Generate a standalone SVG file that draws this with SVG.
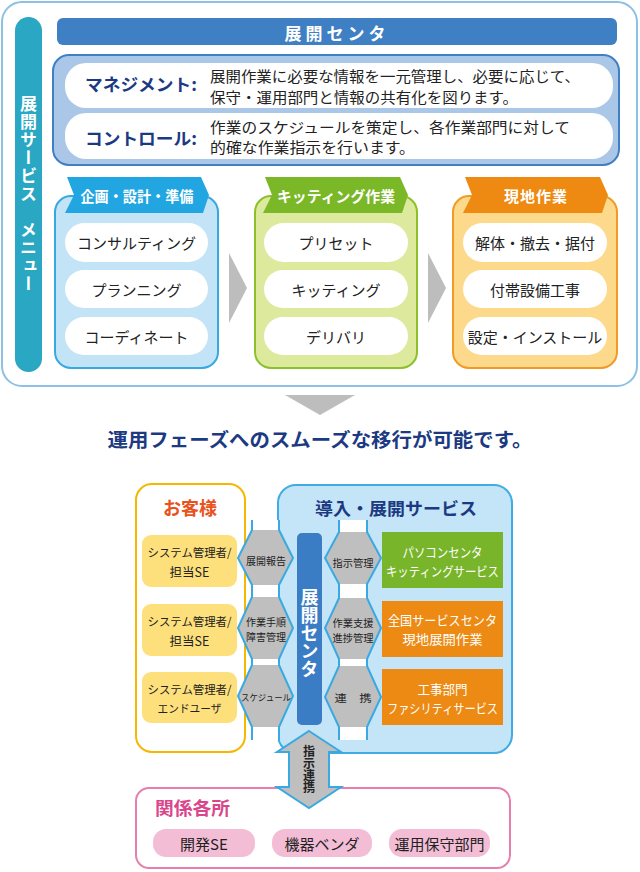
<svg xmlns="http://www.w3.org/2000/svg" width="640" height="872" viewBox="0 0 640 872">
<style>
text{font-family:"Noto Sans CJK JP","Noto Sans",sans-serif;}
.b{font-weight:700;}
.navy{fill:#1c3a82;}
.wt{fill:#fff;}
.dk{fill:#222;}
.pill{fill:#fff;}
.c{text-anchor:middle;dominant-baseline:central;}
.vt{writing-mode:vertical-rl;}
.chev{fill:#bdbdbd;}
.hex{fill:#bfbfbf;}
.edge{fill:none;stroke:#3aa9e2;stroke-width:2;}
</style>

<!-- ===== Top section ===== -->
<g id="frame">
  <rect x="2" y="2" width="635" height="384" rx="20" fill="#fff" stroke="#8dc0e3" stroke-width="2"/>
</g>
<g id="menu-bar">
  <rect x="15" y="17" width="27" height="355" rx="13.5" fill="#2aa7c3"/>
  <text class="vt b wt" x="28.5" y="95" font-size="17" letter-spacing="1">展開サービス　メニュー</text>
</g>
<g id="center-header">
  <rect x="57" y="18" width="560" height="27" rx="6" fill="#3f7fc3"/>
  <text class="c b wt" x="337" y="32" font-size="17" letter-spacing="4">展開センタ</text>
</g>
<g id="center-desc">
  <rect x="53" y="55" width="566" height="110" rx="16" fill="#aac7e7" stroke="#3f7fc3" stroke-width="2"/>
  <rect class="pill" x="65" y="63" width="548" height="45" rx="21"/>
  <rect class="pill" x="65" y="113" width="548" height="46" rx="21"/>
  <text class="b navy" x="85" y="91" font-size="17" textLength="112" lengthAdjust="spacingAndGlyphs">マネジメント:</text>
  <text class="dk" x="210" y="82" font-size="14.5" textLength="370" lengthAdjust="spacingAndGlyphs">展開作業に必要な情報を一元管理し、必要に応じて、</text>
  <text class="dk" x="210" y="103" font-size="14.5" textLength="308" lengthAdjust="spacingAndGlyphs">保守・運用部門と情報の共有化を図ります。</text>
  <text class="b navy" x="85" y="145" font-size="17" textLength="112" lengthAdjust="spacingAndGlyphs">コントロール:</text>
  <text class="dk" x="210" y="133" font-size="14.5" textLength="360" lengthAdjust="spacingAndGlyphs">作業のスケジュールを策定し、各作業部門に対して</text>
  <text class="dk" x="210" y="153" font-size="14.5" textLength="205" lengthAdjust="spacingAndGlyphs">的確な作業指示を行います。</text>
</g>

<g id="plan">
  <rect x="55" y="196" width="163" height="172" rx="16" fill="#c3e3f7" stroke="#36a9e1" stroke-width="2"/>
  <polygon points="67,177 201,177 209,195 203,213 65,213 74,195" fill="#22a6e2"/>
  <text class="c b wt" x="137" y="195" font-size="15" textLength="113" lengthAdjust="spacingAndGlyphs">企画・設計・準備</text>
  <rect class="pill" x="65" y="223" width="143" height="39" rx="19.5"/>
  <rect class="pill" x="65" y="270" width="143" height="38" rx="19"/>
  <rect class="pill" x="65" y="317" width="143" height="38" rx="19"/>
  <text class="c dk" x="136.5" y="242" font-size="15">コンサルティング</text>
  <text class="c dk" x="136.5" y="289" font-size="15">プランニング</text>
  <text class="c dk" x="136.5" y="336" font-size="15">コーディネート</text>
</g>
<g id="kitting">
  <rect x="255" y="196" width="162" height="172" rx="16" fill="#dde99c" stroke="#8bc12a" stroke-width="2"/>
  <polygon points="265,177 400,177 408,195 402,213 263,213 272,195" fill="#7ab828"/>
  <text class="c b wt" x="336" y="195" font-size="15" textLength="118" lengthAdjust="spacingAndGlyphs">キッティング作業</text>
  <rect class="pill" x="264" y="223" width="144" height="39" rx="19.5"/>
  <rect class="pill" x="264" y="270" width="144" height="38" rx="19"/>
  <rect class="pill" x="264" y="317" width="144" height="38" rx="19"/>
  <text class="c dk" x="336" y="242" font-size="15">プリセット</text>
  <text class="c dk" x="336" y="289" font-size="15">キッティング</text>
  <text class="c dk" x="336" y="336" font-size="15">デリバリ</text>
</g>
<g id="onsite">
  <rect x="453" y="196" width="164" height="172" rx="16" fill="#fdd98b" stroke="#f19a26" stroke-width="2"/>
  <polygon points="465,177 600,177 608,195 602,213 463,213 472,195" fill="#ee8a12"/>
  <text class="c b wt" x="536" y="195" font-size="15" letter-spacing="1">現地作業</text>
  <rect class="pill" x="463" y="223" width="144" height="39" rx="19.5"/>
  <rect class="pill" x="463" y="270" width="144" height="38" rx="19"/>
  <rect class="pill" x="463" y="317" width="144" height="38" rx="19"/>
  <text class="c dk" x="535" y="242" font-size="15">解体・撤去・据付</text>
  <text class="c dk" x="535" y="289" font-size="15">付帯設備工事</text>
  <text class="c dk" x="535" y="336" font-size="15">設定・インストール</text>
</g>

<g id="connectors-top">
  <polygon class="chev" points="229,253 247,288 229,323"/>
  <polygon class="chev" points="428,253 446,288 428,323"/>
  <polygon class="chev" points="285,395 355,395 320,415"/>
</g>

<g id="summary">
  <text class="c b navy" x="320" y="438" font-size="19" textLength="425" lengthAdjust="spacingAndGlyphs">運用フェーズへのスムーズな移行が可能です。</text>
</g>

<!-- ===== Bottom section ===== -->
<g id="customer">
  <rect x="136" y="484" width="109" height="268" rx="16" fill="#fff" stroke="#f6b700" stroke-width="2"/>
  <text class="c b" x="190" y="507" font-size="18" fill="#e8521d">お客様</text>
  <rect x="142" y="535" width="95" height="52" rx="9" fill="#fde07b"/>
  <rect x="142" y="604" width="95" height="52" rx="9" fill="#fde07b"/>
  <rect x="142" y="672" width="95" height="51" rx="9" fill="#fde07b"/>
  <text class="c dk" x="189.5" y="552" font-size="11.5" textLength="84" lengthAdjust="spacingAndGlyphs">システム管理者/</text>
  <text class="c dk" x="189.5" y="571" font-size="12.5">担当SE</text>
  <text class="c dk" x="189.5" y="621" font-size="11.5" textLength="84" lengthAdjust="spacingAndGlyphs">システム管理者/</text>
  <text class="c dk" x="189.5" y="640" font-size="12.5">担当SE</text>
  <text class="c dk" x="189.5" y="689" font-size="11.5" textLength="84" lengthAdjust="spacingAndGlyphs">システム管理者/</text>
  <text class="c dk" x="189.5" y="708" font-size="11" textLength="64" lengthAdjust="spacingAndGlyphs">エンドユーザ</text>
</g>

<g id="service">
  <rect x="278" y="485" width="234" height="268" rx="18" fill="#c4e4f7" stroke="#40ace3" stroke-width="2"/>
  <text class="c b navy" x="396" y="507" font-size="17.5" textLength="162" lengthAdjust="spacingAndGlyphs">導入・展開サービス</text>
</g>

<g id="deploy-center">
  <rect x="297" y="533" width="25" height="192" rx="5" fill="#3b7dc4"/>
  <text class="vt b wt" x="309.5" y="588" font-size="18">展開センタ</text>
</g>

<g id="pc-center">
  <rect x="382" y="532" width="121" height="56" fill="#78b52a"/>
  <text class="c wt" x="442.5" y="551" font-size="13" textLength="80" lengthAdjust="spacingAndGlyphs">パソコンセンタ</text>
  <text class="c wt" x="442.5" y="570" font-size="13" textLength="113" lengthAdjust="spacingAndGlyphs">キッティングサービス</text>
</g>
<g id="national-center">
  <rect x="382" y="601" width="121" height="56" fill="#ec8a13"/>
  <text class="c wt" x="442.5" y="619" font-size="13" textLength="109" lengthAdjust="spacingAndGlyphs">全国サービスセンタ</text>
  <text class="c wt" x="442.5" y="638" font-size="13" textLength="80" lengthAdjust="spacingAndGlyphs">現地展開作業</text>
</g>
<g id="facility">
  <rect x="382" y="669" width="121" height="56" fill="#ec8a13"/>
  <text class="c wt" x="442.5" y="688" font-size="13" textLength="50" lengthAdjust="spacingAndGlyphs">工事部門</text>
  <text class="c wt" x="442.5" y="707" font-size="13" textLength="111" lengthAdjust="spacingAndGlyphs">ファシリティサービス</text>
</g>

<g id="related">
  <rect x="136" y="788" width="374" height="80" rx="13" fill="#fff" stroke="#e67fae" stroke-width="2"/>
  <text class="b" x="155" y="815" font-size="18" fill="#d9468c" textLength="75" lengthAdjust="spacingAndGlyphs">関係各所</text>
  <rect x="153" y="829" width="102" height="28" rx="13" fill="#f3bdd5"/>
  <rect x="272" y="829" width="100" height="28" rx="13" fill="#f3bdd5"/>
  <rect x="389" y="829" width="101" height="28" rx="13" fill="#f3bdd5"/>
  <text class="c dk" x="204" y="843" font-size="15">開発SE</text>
  <text class="c dk" x="322" y="843" font-size="15">機器ベンダ</text>
  <text class="c dk" x="439.5" y="843" font-size="15">運用保守部門</text>
</g>

<g id="connectors">
  <!-- left column -->
  <rect x="252" y="520" width="27" height="220" fill="#fff"/>
  <polygon class="hex" points="252,530 279,530 293,558 279,585 252,585 238,558"/>
  <polygon class="hex" points="252,597 279,597 293,628 279,659 252,659 238,628"/>
  <polygon class="hex" points="252,665 279,665 293,696 279,727 252,727 238,696"/>
  <polyline class="edge" points="252,520 252,530 238,558 252,585 252,597 238,628 252,659 252,665 238,696 252,727 252,740"/>
  <polyline class="edge" points="279,520 279,530 293,558 279,585 279,597 293,628 279,659 279,665 293,696 279,727 279,740"/>
  <text class="c dk" x="266" y="560" font-size="10" textLength="40" lengthAdjust="spacingAndGlyphs">展開報告</text>
  <text class="c dk" x="266" y="621" font-size="10" textLength="40" lengthAdjust="spacingAndGlyphs">作業手順</text>
  <text class="c dk" x="266" y="636" font-size="10" textLength="40" lengthAdjust="spacingAndGlyphs">障害管理</text>
  <text class="c dk" x="266" y="697" font-size="8.7" textLength="50" lengthAdjust="spacingAndGlyphs">スケジュール</text>
  <!-- right column -->
  <rect x="339" y="520" width="28" height="220" fill="#fff"/>
  <polygon class="hex" points="339,532 367,532 381,558 367,584 339,584 325,558"/>
  <polygon class="hex" points="339,598 367,598 381,628 367,659 339,659 325,628"/>
  <polygon class="hex" points="339,666 367,666 381,697 367,727 339,727 325,697"/>
  <polyline class="edge" points="339,520 339,532 325,558 339,584 339,598 325,628 339,659 339,666 325,697 339,727 339,740"/>
  <polyline class="edge" points="367,520 367,532 381,558 367,584 367,598 381,628 367,659 367,666 381,697 367,727 367,740"/>
  <text class="c dk" x="353" y="562" font-size="10" textLength="41" lengthAdjust="spacingAndGlyphs">指示管理</text>
  <text class="c dk" x="353" y="622" font-size="10" textLength="41" lengthAdjust="spacingAndGlyphs">作業支援</text>
  <text class="c dk" x="353" y="637" font-size="10" textLength="41" lengthAdjust="spacingAndGlyphs">進捗管理</text>
  <text class="c dk" x="353" y="697" font-size="10" textLength="37" lengthAdjust="spacingAndGlyphs">連　携</text>
  <!-- bottom vertical double arrow -->
  <polygon points="309,731 341,752 329,752 329,787 341,787 309,808 277,787 289,787 289,752 277,752" fill="#bfbfbf" stroke="#3aa9e2" stroke-width="2" stroke-linejoin="miter"/>
  <text class="vt b dk" x="309" y="745" font-size="12">指示連携</text>
</g>
</svg>
